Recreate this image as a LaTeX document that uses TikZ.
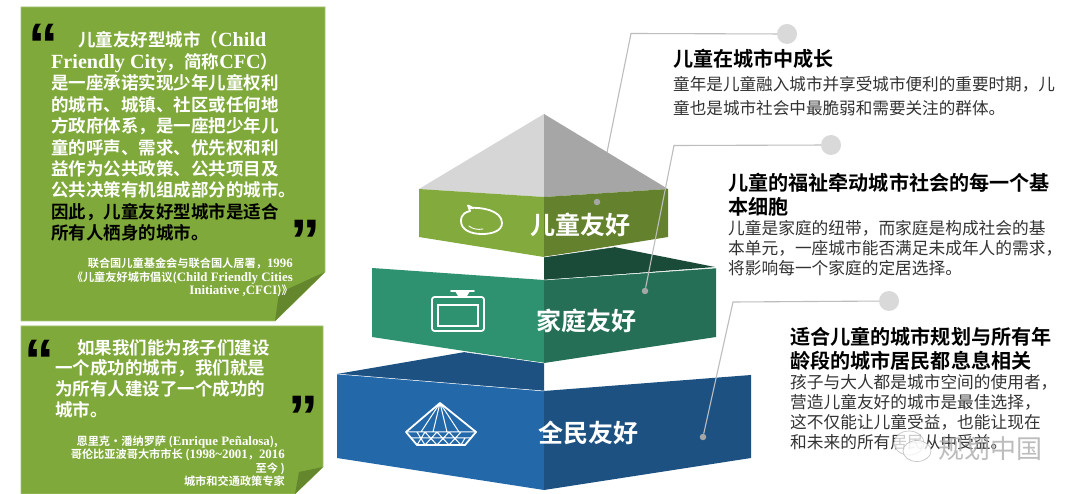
\documentclass[tikz,border=0pt]{standalone}
\usepackage{fontspec}
\setmainfont{Noto Sans CJK SC}
\newfontfamily\cjkr{Noto Sans CJK SC}
\newfontfamily\cjkb{Noto Sans CJK SC Bold}
\newfontfamily\latb{Liberation Serif}[BoldFont={Liberation Serif Bold},Scale=1.15]
\newfontfamily\quotef{Liberation Sans Bold}
\newcommand{\lt}[1]{{\latb\bfseries #1}}
\definecolor{pgreen}{HTML}{7FA93A}
\definecolor{pfold}{HTML}{64862D}
\definecolor{bandgreenL}{HTML}{82AA3C}
\definecolor{bandgreenR}{HTML}{64812D}
\definecolor{tealL}{HTML}{2E9270}
\definecolor{tealR}{HTML}{246F56}
\definecolor{tealB}{HTML}{1A4A38}
\definecolor{blueL}{HTML}{2369AA}
\definecolor{blueR}{HTML}{1C5182}
\definecolor{roofL}{HTML}{D6D6D6}
\definecolor{roofR}{HTML}{A6A6A6}
\definecolor{leader}{HTML}{BDBDBD}
\definecolor{bigdot}{HTML}{D9D9D9}
\definecolor{smalldot}{HTML}{A6A6A6}
\definecolor{bodytxt}{HTML}{333333}
\tikzset{
 x=1pt,y=-1pt,
 panelbox/.style={fill=pgreen,draw=pgreen!70!white,line width=.6pt},
 foldbox/.style={fill=pfold,draw=none},
 quotebody/.style={inner sep=0,anchor=north west,align=left,text=white,font=\cjkb\fontsize{17.5}{21.45}\selectfont},
 attrib/.style={inner sep=0,anchor=north east,align=right,text=white,font=\cjkb\fontsize{11.2}{13.5}\selectfont},
 qmark/.style={inner sep=0,text=black,font=\quotef\fontsize{60}{60}\selectfont},
 head/.style={inner sep=0,anchor=north west,align=left,text=black,font=\cjkb\fontsize{20.1}{24}\selectfont},
 body/.style={inner sep=0,anchor=north west,align=left,text=bodytxt,font=\cjkr\fontsize{16.7}{20}\selectfont},
 bandlabel/.style={inner sep=0,text=white,font=\cjkb\fontsize{25}{28}\selectfont},
 leaderline/.style={draw=leader,line width=1.1pt},
 hubdot/.style={circle,fill=bigdot,draw=none,minimum size=20pt,inner sep=0},
 enddot/.style={circle,fill=smalldot,draw=none,minimum size=6.5pt,inner sep=0},
 iconline/.style={draw=white,line width=1.8pt,line join=round,line cap=round},
 seam/.style={draw=white,line width=.5pt},
 wmark/.style={inner sep=0,text=gray!65,opacity=.8,font=\cjkr\fontsize{26}{28}\selectfont},
}
\begin{document}
\begin{tikzpicture}
\useasboundingbox (0,0) rectangle (1080,494);
\fill[white] (0,0) rectangle (1080,494);
% panels
\path[panelbox] (21,7) -- (325,7) -- (325,272) -- (275,321) -- (21,321) -- cycle;
\path[foldbox] (325,272) -- (275,321) -- (279,293) -- cycle;
\path[panelbox] (21,326) -- (323,326) -- (323,467) -- (295,494) -- (21,494) -- cycle;
\path[foldbox] (323,467) -- (295,494) -- (299,472) -- cycle;
% quote 1
\node[qmark,anchor=center] (q1a) at (43.5,45) {“};
\node[qmark,anchor=center] (q1b) at (305.5,241) {”};
\node[quotebody] (t1) at (51,31.5) {\hspace{27pt}儿童友好型城市（\lt{Child}\\
\lt{Friendly City}，简称\lt{CFC}）\\
是一座承诺实现少年儿童权利\\
的城市、城镇、社区或任何地\\
方政府体系，是一座把少年儿\\
童的呼声、需求、优先权和利\\
益作为公共政策、公共项目及\\
公共决策有机组成部分的城市。\\
\textcolor{black}{因此，儿童友好型城市是适合}\\
\textcolor{black}{所有人栖身的城市。}};
\node[attrib] (a1) at (293,258) {联合国儿童基金会与联合国人居署，\lt{1996}\\
《儿童友好城市倡议(\lt{Child Friendly Cities}\\
\lt{Initiative ,CFCI})》};
% quote 2
\node[qmark,anchor=center] (q2a) at (39.5,360.5) {“};
\node[qmark,anchor=center] (q2b) at (303.5,416.5) {”};
\node[quotebody,font=\cjkb\fontsize{17.5}{20.7}\selectfont] (t2) at (55,339) {\hspace{22pt}如果我们能为孩子们建设\\
一个成功的城市，我们就是\\
为所有人建设了一个成功的\\
城市。};
\node[attrib] (a2) at (285,435.5) {恩里克·潘纳罗萨 (\lt{Enrique Peñalosa}),\kern7pt\\
哥伦比亚波哥大市市长 (\lt{1998\textasciitilde 2001}，\lt{2016}\\
至今 )\\
城市和交通政策专家};
% named leader points
\node[hubdot] (hub1) at (787,34) {};
\node[hubdot] (hub2) at (831,145) {};
\node[hubdot] (hub3) at (889,301) {};
\coordinate (c1) at (631,33.5);
\coordinate (c2) at (674,145.5);
\coordinate (c3) at (733,302);
\coordinate (p1) at (597,202);
% leader 1 runs behind the pyramid
\draw[leaderline] (hub1) -- (c1) -- (p1);
% blue
\fill[blueR] (337,374) -- (465,352) -- (544,363) -- (544,391) -- cycle;
\fill[blueL] (337,374) -- (544,391) -- (544,490) -- (337,458) -- cycle;
\fill[blueR] (544,391) -- (751,375) -- (751,458) -- (544,490) -- cycle;
\draw[seam] (337,374) -- (544,391);
% teal
\fill[tealB] (544,257) -- (614,247) -- (715,267) -- (544,280) -- cycle;
\fill[tealL] (372,268) -- (544,280) -- (544,363) -- (372,337) -- cycle;
\fill[tealR] (544,280) -- (716,268) -- (716,337) -- (544,363) -- cycle;
\draw[seam] (544,280) -- (716,268) (465,352) -- (544,363);
% green
\fill[roofL] (544,114) -- (419,189) -- (544,197) -- cycle;
\fill[roofR] (544,114) -- (668,189) -- (544,197) -- cycle;
\fill[bandgreenL] (419,189) -- (544,197) -- (544,257) -- (419,237) -- cycle;
\fill[bandgreenR] (544,197) -- (668,189) -- (668,237) -- (544,257) -- cycle;
\draw[seam] (544,257) -- (614,247);
% end dots and remaining leaders
\node[enddot] (e1) at (p1) {};
\node[enddot] (e2) at (645,291) {};
\node[enddot] (e3) at (703,437) {};
\draw[leaderline] (hub2) -- (c2) -- (e2);
\draw[leaderline] (hub3) -- (c3) -- (e3);
% band labels
\node[bandlabel] (l1) at (580,225) {儿童友好};
\node[bandlabel] (l2) at (586,321) {家庭友好};
\node[bandlabel] (l3) at (588,433) {全民友好};
% chat icon
\draw[iconline] (470.5,208) .. controls (480,207) and (502,210) .. (502,223)
 .. controls (502,231) and (492,234) .. (482,234)
 .. controls (471,234) and (461,230) .. (461,221)
 .. controls (461,214) and (466,212) .. (470,211) -- (468,205.5) -- (473,208);
\draw[draw=white,line width=.9pt,line cap=round] (469,226) .. controls (472,229) and (478,230) .. (483,229);
% tv icon
\draw[iconline,rounded corners=2.5pt] (432,297) rectangle (484,331);
\draw[draw=white,line width=1.1pt] (438,305) rectangle (478,326);
\draw[iconline] (451,291) -- (474,291);
\fill[white] (455,291) -- (470,291) -- (467,296) -- (458,296) -- cycle;
% diamond icon
\draw[iconline] (440,403) -- (476,432) -- (465,445) -- (417,445) -- (406,432) -- cycle;
\draw[draw=white,line width=1pt] (406,432) -- (476,432)
 (411,438) -- (471,438)
 (440,403) -- (421,432) (440,403) -- (433,432) (440,403) -- (447,432) (440,403) -- (459,432)
 (417,445) -- (425,432) (425,445) -- (417,432)
 (425,445) -- (437,432) (437,445) -- (425,432)
 (437,445) -- (449,432) (449,445) -- (437,432)
 (449,445) -- (461,432) (461,445) -- (449,432)
 (461,445) -- (465,438);
% right texts
\node[head] (h1) at (673,49) {儿童在城市中成长};
\node[body,font=\cjkr\fontsize{16.6}{24}\selectfont] (b1) at (673,76) {童年是儿童融入城市并享受城市便利的重要时期，儿\\童也是城市社会中最脆弱和需要关注的群体。};
\node[head] (h2) at (728,172.5) {儿童的福祉牵动城市社会的每一个基\\本细胞};
\node[body] (b2) at (728,220.5) {儿童是家庭的纽带，而家庭是构成社会的基\\本单元，一座城市能否满足未成年人的需求，\\将影响每一个家庭的定居选择。};
\node[head] (h3) at (790,326.5) {适合儿童的城市规划与所有年\\龄段的城市居民都息息相关};
\node[body] (b3) at (790,374.5) {孩子与大人都是城市空间的使用者，\\营造儿童友好的城市是最佳选择，\\这不仅能让儿童受益，也能让现在\\和未来的所有居民从中受益。};
% watermark
\begin{scope}[opacity=.75]
\path[fill=white,draw=gray!60,line width=.7pt] (909,443) ellipse (15 and 12);
\path[fill=white,draw=gray!60,line width=.7pt] (917,451) ellipse (14 and 10.5);
\end{scope}
\node[wmark] (wm) at (990,449) {规划中国};
\end{tikzpicture}
\end{document}
